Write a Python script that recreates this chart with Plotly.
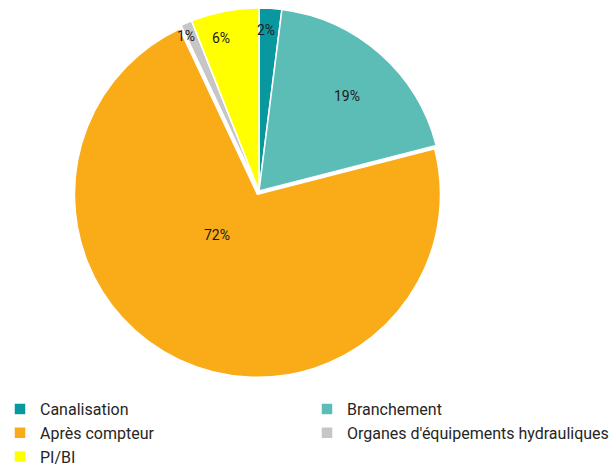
import math
import plotly.graph_objects as go

# Data
categories = ["Canalisation", "Branchement", "Après compteur",
              "Organes d'équipements hydrauliques", "PI/BI"]
shares = [2, 19, 72, 1, 6]
colors = ["#0a98a0", "#5cbdb6", "#f9ab18", "#c6c6c6", "#ffff00"]

W, H = 613, 474
# pie geometry (pixels)
cx, cy, R = 259, 191, 183
pulls = [0, 0, 0.02, 0, 0]
span = R * (1 + max(pulls))

# label placement: radial fraction and small angular nudge (degrees)
label_r = [0.88, 0.71, 0.33, 0.935, 0.86]
label_nudge = [-1.0, 1.5, 18.5, -2.0, -3.3]

fig = go.Figure(go.Pie(
    labels=categories,
    values=shares,
    sort=False,
    direction="clockwise",
    rotation=0,
    pull=pulls,
    marker=dict(colors=colors, line=dict(color="white", width=1.5)),
    textinfo="none",
    hoverinfo="label+percent",
    domain=dict(x=[(cx - span) / W, (cx + span) / W],
                y=[1 - (cy + span) / H, 1 - (cy - span) / H]),
))

total = sum(shares)
cum = 0
annotations = []
for v, rf, nd in zip(shares, label_r, label_nudge):
    mid = 2 * math.pi * (cum + v / 2) / total + math.radians(nd)
    cum += v
    px = cx + rf * R * math.sin(mid)
    py = cy - rf * R * math.cos(mid)
    annotations.append(dict(
        x=px / W, y=1 - py / H, xref="paper", yref="paper",
        xanchor="center", yanchor="middle",
        text=f"{round(100 * v / total)}%", showarrow=False,
        font=dict(family="Roboto", size=14, color="#1a1a1a"),
    ))

fig.update_layout(
    width=W, height=H,
    margin=dict(l=0, r=0, t=0, b=0),
    paper_bgcolor="white",
    plot_bgcolor="white",
    annotations=annotations,
    showlegend=True,
    legend=dict(
        orientation="h",
        xref="paper", yref="paper",
        x=0, y=0, xanchor="left", yanchor="bottom",
        entrywidth=262, entrywidthmode="pixels",
        font=dict(family="Roboto", size=16, color="#262626"),
        traceorder="normal",
    ),
)

fig.write_html("out.html")
